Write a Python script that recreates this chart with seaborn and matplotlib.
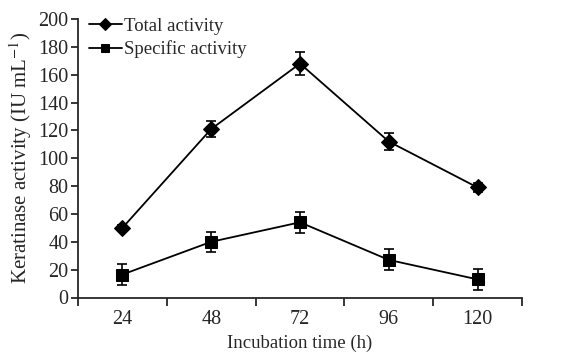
import matplotlib
matplotlib.use("Agg")
import matplotlib.pyplot as plt
import seaborn as sns
import pandas as pd
import numpy as np

hours = [24, 48, 72, 96, 120]
total_activity = [50, 121, 168, 112, 79]
total_err = [2, 6, 8, 6, 3]
specific_activity = [16.5, 40, 54, 27, 13]
specific_err = [7.5, 7, 7.5, 7.5, 7.5]
x_ticklabels = ["24", "48", "72", "96", "120"]

sns.set_style("ticks")
plt.rcParams['font.family'] = ['Liberation Serif', 'DejaVu Serif']
plt.rcParams['mathtext.fontset'] = 'stix'

fig = plt.figure(figsize=(5.63, 3.53), dpi=100)
ax = fig.add_axes([78/563, 1-297.5/353, (522-78)/563, (297.5-19)/353])

df = pd.DataFrame({
    "hours": hours * 2,
    "value": total_activity + specific_activity,
    "series": ["Total activity"] * 5 + ["Specific activity"] * 5,
})
sns.lineplot(data=df, x="hours", y="value", hue="series", style="series",
             markers={"Total activity": "D", "Specific activity": "s"},
             dashes=False, palette={"Total activity": "black", "Specific activity": "black"},
             markersize=8, linewidth=1.3, markeredgecolor="black", ax=ax)
ax.errorbar(hours, total_activity, yerr=total_err, fmt="none", ecolor="black",
            elinewidth=1.2, capsize=3.5, capthick=1.2)
ax.errorbar(hours, specific_activity, yerr=specific_err, fmt="none", ecolor="black",
            elinewidth=1.2, capsize=3.5, capthick=1.2)

ax.set_xlim(12, 132)
ax.set_ylim(0, 200)
ax.set_yticks(np.arange(0, 201, 20))
ax.set_xticks(hours)
ax.set_xticklabels(x_ticklabels)
ax.set_xticks(np.arange(12, 133, 24), minor=True)
ax.tick_params(axis="x", which="major", length=0, labelsize=14.5, pad=9)
ax.tick_params(axis="x", which="minor", length=6, width=1.3, direction="out")
ax.tick_params(axis="y", length=5, width=1.3, labelsize=14.5, direction="out", pad=2)
for s in ["top", "right"]:
    ax.spines[s].set_visible(False)
for s in ["left", "bottom"]:
    ax.spines[s].set_linewidth(1.3)

ax.set_xlabel("Incubation time (h)", fontsize=13.5, labelpad=4)
ax.set_ylabel(r"Keratinase activity (IU mL$^{-1}$)", fontsize=15, labelpad=3)

leg = ax.legend(loc="upper left", bbox_to_anchor=(0.012, 1.025), frameon=False,
                fontsize=13.5, handlelength=1.75, handletextpad=0.1, markerscale=0.75,
                borderaxespad=0.2, labelspacing=0.3, borderpad=0.1)
fig.savefig("out.png", dpi=100)
